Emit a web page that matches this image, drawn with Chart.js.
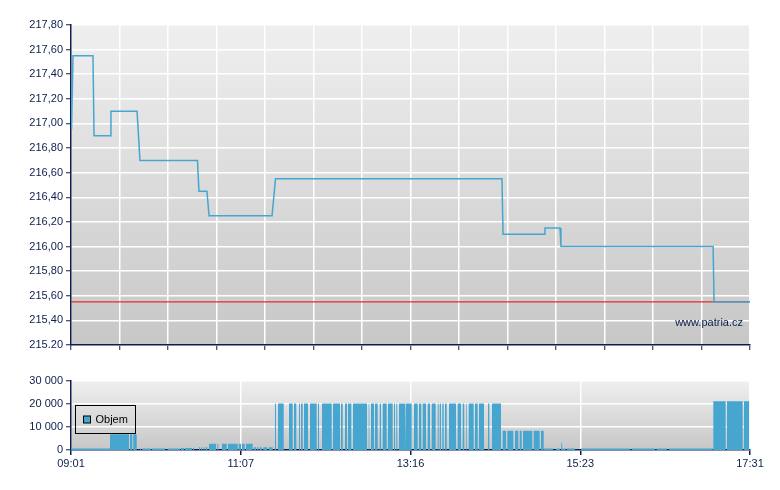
<!DOCTYPE html>
<html><head><meta charset="utf-8">
<script src="https://cdn.jsdelivr.net/npm/chart.js@4"></script>
<style>
body{margin:0;background:#fff;width:780px;height:490px;overflow:hidden;position:relative}
canvas{position:absolute;left:0}
#c1{top:0}#c2{top:360px}
</style></head>
<body>
<canvas id="c1" width="780" height="360" style="width:780px;height:360px"></canvas>
<canvas id="c2" width="780" height="130" style="width:780px;height:130px"></canvas>
<script>
// ---- data (x = minutes after 09:01) ----
const priceTimes  = [0, 0.4, 1.5, 16.5, 17.3, 29.3, 30, 49.6, 51.8, 95, 96.1, 102.1, 103.7, 151, 153.6, 323.7, 324.5, 355.3, 356, 367.3, 368, 482.3, 483, 510];
const priceValues = [217.27, 216.95, 217.55, 217.55, 216.90, 216.90, 217.10, 217.10, 216.70, 216.70, 216.45, 216.45, 216.25, 216.25, 216.55, 216.55, 216.10, 216.10, 216.15, 216.15, 216.00, 216.00, 215.55, 215.55];
const prevClose = 215.55;

const volStart = [0,29.29,44.31,46.79,51.83,53.55,60.84,72.63,82.62,85.63,91.63,96.14,97.87,99.37,101.17,
 103.65,109.89,111.39,113.42,117.92,125.96,128.44,131.44,137.45,139.93,141.96,144.44,148.72,
 153.22,155.48,163.74,167.49,171.25,172.75,175.01,179.51,185.53,188.53,196.79,202.80,205.81,208.06,211.82,
 223.61,225.33,228.34,231.87,234.12,238.10,242.61,244.33,246.36,251.62,257.63,261.38,264.16,267.92,270.92,
 275.43,276.93,278.88,280.91,283.91,290.44,294.20,296.68,298.71,303.44,306.45,311.71,313.20,314.94,316.21,323.20,
 324.25,327.71,333.49,337.02,339.50,347.54,353.02,
 355.28,364.29,368.27,369.32,372.55,383.07,421.15,439.93,449.17,
 482.44,492.73,505.50];
const volEnd = [29.29,43.56,46.04,49.35,52.58,60.09,70.60,81.87,84.87,90.88,92.39,96.89,98.62,100.12,102.38,
 108.91,110.64,111.91,116.95,125.21,127.69,130.47,136.47,138.95,140.98,143.23,147.44,151.50,
 153.98,159.76,166.52,169.22,172.00,174.03,178.01,184.55,186.28,195.82,202.05,204.08,207.31,210.54,222.33,
 224.06,227.58,230.36,232.84,237.12,241.63,243.36,245.08,250.87,255.90,260.41,263.11,266.64,269.65,273.93,
 276.18,277.91,279.93,282.19,289.17,292.92,295.40,297.20,302.46,305.47,310.20,312.23,314.18,315.46,322.97,323.72,
 326.73,332.21,335.97,338.52,346.48,352.04,355.05,
 362.04,367.30,368.80,371.57,378.56,419.87,438.65,447.44,481.99,
 491.75,504.52,509.48];
const volAmount = [650,6900,6900,6900,650,650,650,650,900,900,900,1200,1200,1200,1200,
 2700,2700,2700,2700,2700,2700,2700,2700,1200,1200,1200,1200,1200,
 20200,20200,20200,20200,20200,20200,20200,20200,20200,20200,20200,20200,20200,20200,20200,
 20200,20200,20200,20200,20200,20200,20200,20200,20200,20200,20200,20200,20200,20200,20200,
 20200,20200,20200,20200,20200,20200,20200,20200,20200,20200,20200,20200,20200,20200,20200,20200,
 8400,8400,8400,8400,8400,8400,8400,
 650,650,3100,650,650,650,650,650,650,
 21200,21200,21200];

const priceTickValues = [215.2,215.4,215.6,215.8,216.0,216.2,216.4,216.6,216.8,217.0,217.2,217.4,217.6,217.8];
const priceTickLabels = ['215.20','215,40','215,60','215,80','216,00','216,20','216,40','216,60','216,80','217,00','217,20','217,40','217,60','217,80'];
const volTickValues = [0,10000,20000,30000];
const volTickLabels = ['0','10 000','20 000','30 000'];
const timeTickValues = [0,127.5,255,382.5,510];
const timeTickLabels = ['09:01','11:07','13:16','15:23','17:31'];
const timeGridCount = 14;
const volumeLabel = 'Objem';
const watermark = 'www.patria.cz';

// ---- styles ----
const NAVY = '#0c1f4c';
const BLUE = '#47a6d0';
const FONT = {family:'"Liberation Sans", Arial, sans-serif', size:11};

const bgPlugin = {
  id:'bg',
  beforeDraw(chart){
    const {ctx, chartArea:a} = chart;
    const g = ctx.createLinearGradient(0,a.top,0,a.bottom);
    g.addColorStop(0,'#efefef');
    g.addColorStop(1,'#c7c7c7');
    ctx.save(); ctx.fillStyle=g; ctx.fillRect(a.left,a.top,a.right-a.left,a.bottom-a.top); ctx.restore();
  }
};
const watermarkPlugin = {
  id:'wm',
  afterDraw(chart){
    const {ctx, chartArea:a} = chart;
    ctx.save(); ctx.font='11px "Liberation Sans", Arial, sans-serif'; ctx.fillStyle=NAVY;
    ctx.textAlign='right'; ctx.textBaseline='middle';
    ctx.fillText(watermark, a.right-7, a.bottom-22);
    ctx.restore();
  }
};
const legendPlugin = {
  id:'lg',
  afterDraw(chart){
    const {ctx, chartArea:a} = chart;
    const ds = chart.data.datasets[0];
    const x = a.left+4.5, y = a.top+24.5, w = 60, h = 28;
    ctx.save();
    ctx.strokeStyle='#000'; ctx.lineWidth=1;
    ctx.strokeRect(x,y,w,h);
    ctx.fillStyle=ds.backgroundColor; ctx.fillRect(x+8,y+10.5,7,7);
    ctx.strokeRect(x+8,y+10.5,7,7);
    ctx.font='11px "Liberation Sans", Arial, sans-serif'; ctx.fillStyle='#000';
    ctx.textAlign='left'; ctx.textBaseline='middle';
    ctx.fillText(ds.label, x+20, y+14.5);
    ctx.restore();
  }
};

const gridStep = 510/timeGridCount;
const gridTicks = Array.from({length:timeGridCount+1},(_,i)=>i*gridStep);

// ---- price chart ----
new Chart(document.getElementById('c1'),{
  type:'line',
  data:{datasets:[
    {label:'Cena', data:priceTimes.map((t,i)=>({x:t,y:priceValues[i]})), borderColor:BLUE, borderWidth:1.5, pointRadius:0, tension:0, fill:false},
    {label:'Předchozí', data:[{x:0,y:prevClose},{x:510,y:prevClose}], borderColor:'#e52b2b', borderWidth:1.2, pointRadius:0, fill:false, order:1}
  ]},
  options:{
    responsive:false, animation:false,
    layout:{padding:{top:25,right:30,left:0,bottom:0}},
    plugins:{legend:{display:false}, tooltip:{enabled:false}},
    scales:{
      x:{type:'linear', min:0, max:510,
        afterBuildTicks:s=>{s.ticks=gridTicks.map(v=>({value:v}));},
        afterFit:s=>{s.height=15;},
        ticks:{callback:()=>'' , font:FONT, color:NAVY},
        grid:{color:'#ffffff', lineWidth:1.5, tickColor:NAVY, tickLength:5, tickWidth:1},
        border:{color:NAVY, width:1.5}
      },
      y:{type:'linear', min:215.2, max:217.8,
        afterBuildTicks:s=>{s.ticks=priceTickValues.map(v=>({value:v}));},
        afterFit:s=>{s.width=71;},
        ticks:{callback:(v)=>{const i=priceTickValues.findIndex(p=>Math.abs(p-v)<1e-6);return i>=0?priceTickLabels[i]:'';}, font:FONT, color:NAVY, padding:3},
        grid:{color:'#ffffff', lineWidth:1.5, tickColor:NAVY, tickLength:5, tickWidth:1},
        border:{color:NAVY, width:1.5}
      }
    }
  },
  plugins:[bgPlugin, watermarkPlugin]
});

// ---- volume chart ----
const volPoints = [];
volStart.forEach((s,i)=>{
  volPoints.push({x:s,y:0},{x:s,y:volAmount[i]},{x:volEnd[i],y:volAmount[i]},{x:volEnd[i],y:0});
});
new Chart(document.getElementById('c2'),{
  type:'line',
  data:{datasets:[
    {label:volumeLabel, data:volPoints, borderWidth:0, borderColor:'rgba(0,0,0,0)', backgroundColor:BLUE, pointRadius:0, tension:0, fill:'origin'}
  ]},
  options:{
    responsive:false, animation:false,
    layout:{padding:{top:21,right:30,left:0,bottom:0}},
    plugins:{legend:{display:false}, tooltip:{enabled:false}},
    scales:{
      x:{type:'linear', min:0, max:510,
        afterBuildTicks:s=>{s.ticks=timeTickValues.map(v=>({value:v}));},
        afterFit:s=>{s.height=40;},
        ticks:{callback:(v)=>{const i=timeTickValues.indexOf(v);return i>=0?timeTickLabels[i]:'';}, font:FONT, color:NAVY, padding:2, maxRotation:0, autoSkip:false},
        grid:{color:'#ffffff', lineWidth:1.5, tickColor:NAVY, tickLength:5, tickWidth:1.5},
        border:{color:NAVY, width:1.5}
      },
      y:{type:'linear', min:0, max:30000,
        afterBuildTicks:s=>{s.ticks=volTickValues.map(v=>({value:v}));},
        afterFit:s=>{s.width=71;},
        ticks:{callback:(v)=>{const i=volTickValues.indexOf(v);return i>=0?volTickLabels[i]:'';}, font:FONT, color:NAVY, padding:3},
        grid:{color:'#ffffff', lineWidth:1.5, tickColor:NAVY, tickLength:5, tickWidth:1},
        border:{color:NAVY, width:1.5}
      }
    }
  },
  plugins:[bgPlugin, legendPlugin]
});
</script>
</body></html>
